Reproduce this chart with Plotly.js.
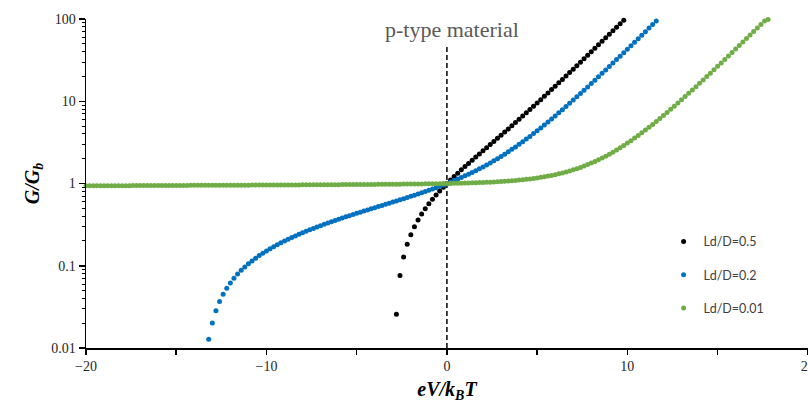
<!DOCTYPE html>
<html>
<head>
<meta charset="utf-8">
<script src="https://cdn.plot.ly/plotly-3.0.1.min.js"></script>
<style>html,body{margin:0;padding:0;background:#fff;}#chart{width:808px;height:406px;}</style>
</head>
<body>
<div id="chart"></div>
<script>
// eV/kBT values and G/Gb values for each Ld/D ratio
const seriesNames = ['Ld/D=0.5', 'Ld/D=0.2', 'Ld/D=0.01'];

const blackX = [-2.8,-2.6,-2.4,-2.2,-2,-1.8,-1.6,-1.4,-1.2,-1,-0.8,-0.6,-0.4,-0.2,0,
  0.2,0.4,0.6,0.8,1,1.2,1.4,1.6,1.8,2,
  2.2,2.4,2.6,2.8,3,3.2,3.4,3.6,3.8,4,
  4.2,4.4,4.6,4.8,5,5.2,5.4,5.6,5.8,6,
  6.2,6.4,6.6,6.8,7,7.2,7.4,7.6,7.8,8,
  8.2,8.4,8.6,8.8,9,9.2,9.4,9.6,9.8];
const blackY = [0.0258,0.0759,0.1280,0.1823,0.2390,0.2983,0.3605,0.4257,0.4944,0.5668,0.6434,0.7245,0.8106,0.9023,1.0,
  1.104,1.216,1.337,1.466,1.605,1.756,1.919,2.096,2.287,2.496,
  2.724,2.972,3.243,3.540,3.864,4.220,4.611,5.040,5.511,6.030,
  6.600,7.228,7.920,8.682,9.523,10.45,11.47,12.60,13.85,15.22,
  16.74,18.41,20.26,22.31,24.56,27.06,29.81,32.86,36.22,39.93,
  44.04,48.58,53.59,59.13,65.25,72.01,79.49,87.75,96.88];

const blueX = [-13.2,-13,-12.8,-12.6,-12.4,-12.2,-12,-11.8,-11.6,-11.4,
  -11.2,-11,-10.8,-10.6,-10.4,-10.2,-10,-9.8,-9.6,-9.4,
  -9.2,-9,-8.8,-8.6,-8.4,-8.2,-8,-7.8,-7.6,-7.4,
  -7.2,-7,-6.8,-6.6,-6.4,-6.2,-6,-5.8,-5.6,-5.4,
  -5.2,-5,-4.8,-4.6,-4.4,-4.2,-4,-3.8,-3.6,-3.4,
  -3.2,-3,-2.8,-2.6,-2.4,-2.2,-2,-1.8,-1.6,-1.4,
  -1.2,-1,-0.8,-0.6,-0.4,-0.2,0,
  0.2,0.4,0.6,0.8,1,1.2,1.4,1.6,1.8,2,
  2.2,2.4,2.6,2.8,3,3.2,3.4,3.6,3.8,4,
  4.2,4.4,4.6,4.8,5,5.2,5.4,5.6,5.8,6,
  6.2,6.4,6.6,6.8,7,7.2,7.4,7.6,7.8,8,
  8.2,8.4,8.6,8.8,9,9.2,9.4,9.6,9.8,10,
  10.2,10.4,10.6,10.8,11,11.2,11.4,11.6];
const blueY = [0.0128,0.0202,0.0284,0.0367,0.0450,0.0534,0.0619,0.0705,0.0791,0.0879,
  0.0967,0.1056,0.1146,0.1236,0.1328,0.1421,0.1515,0.1610,0.1705,0.1802,
  0.1901,0.2000,0.2101,0.2202,0.2306,0.2410,0.2517,0.2624,0.2733,0.2844,
  0.2957,0.3071,0.3188,0.3306,0.3426,0.3549,0.3674,0.3801,0.3931,0.4064,
  0.4200,0.4338,0.4480,0.4626,0.4775,0.4929,0.5086,0.5248,0.5415,0.5588,
  0.5766,0.5951,0.6142,0.6340,0.6547,0.6762,0.6986,0.7221,0.7467,0.7726,
  0.7998,0.8284,0.8588,0.8909,0.9250,0.9613,1.0,
  1.0414,1.0857,1.1333,1.1845,1.2397,1.2993,1.3639,1.4339,1.5099,1.5926,
  1.6826,1.7809,1.8883,2.0058,2.1344,2.2754,2.4301,2.6000,2.7866,2.9919,
  3.2179,3.4666,3.7406,4.0425,4.3754,4.7424,5.1474,5.5941,6.0872,6.6315,
  7.2325,7.8961,8.6289,9.4382,10.332,11.320,12.411,13.616,14.948,16.419,
  18.045,19.842,21.827,24.021,26.445,29.124,32.084,35.356,38.972,42.967,
  47.392,52.271,57.664,63.623,70.209,77.488,85.532,94.423];

const greenX = [-20,-19.8,-19.6,-19.4,-19.2,-19,-18.8,-18.6,-18.4,-18.2,
  -18,-17.8,-17.6,-17.4,-17.2,-17,-16.8,-16.6,-16.4,-16.2,
  -16,-15.8,-15.6,-15.4,-15.2,-15,-14.8,-14.6,-14.4,-14.2,
  -14,-13.8,-13.6,-13.4,-13.2,-13,-12.8,-12.6,-12.4,-12.2,
  -12,-11.8,-11.6,-11.4,-11.2,-11,-10.8,-10.6,-10.4,-10.2,
  -10,-9.8,-9.6,-9.4,-9.2,-9,-8.8,-8.6,-8.4,-8.2,
  -8,-7.8,-7.6,-7.4,-7.2,-7,-6.8,-6.6,-6.4,-6.2,
  -6,-5.8,-5.6,-5.4,-5.2,-5,-4.8,-4.6,-4.4,-4.2,
  -4,-3.8,-3.6,-3.4,-3.2,-3,-2.8,-2.6,-2.4,-2.2,
  -2,-1.8,-1.6,-1.4,-1.2,-1,-0.8,-0.6,-0.4,-0.2,
  0,
  0.2,0.4,0.6,0.8,1,1.2,1.4,1.6,1.8,2,
  2.2,2.4,2.6,2.8,3,3.2,3.4,3.6,3.8,4,
  4.2,4.4,4.6,4.8,5,5.2,5.4,5.6,5.8,6,
  6.2,6.4,6.6,6.8,7,7.2,7.4,7.6,7.8,8,
  8.2,8.4,8.6,8.8,9,9.2,9.4,9.6,9.8,10,
  10.2,10.4,10.6,10.8,11,11.2,11.4,11.6,11.8,12,
  12.2,12.4,12.6,12.8,13,13.2,13.4,13.6,13.8,14,
  14.2,14.4,14.6,14.8,15,15.2,15.4,15.6,15.8,16,
  16.2,16.4,16.6,16.8,17,17.2,17.4,17.6,17.8];
const greenY = [0.938,0.939,0.939,0.939,0.940,0.940,0.940,0.941,0.941,0.941,
  0.942,0.942,0.942,0.943,0.943,0.943,0.944,0.944,0.945,0.945,
  0.945,0.946,0.946,0.946,0.947,0.947,0.947,0.948,0.948,0.949,
  0.949,0.949,0.950,0.950,0.951,0.951,0.951,0.952,0.952,0.953,
  0.953,0.954,0.954,0.954,0.955,0.955,0.956,0.956,0.957,0.957,
  0.958,0.958,0.959,0.959,0.960,0.960,0.961,0.961,0.962,0.962,
  0.963,0.963,0.964,0.964,0.965,0.965,0.966,0.967,0.967,0.968,
  0.968,0.969,0.970,0.970,0.971,0.972,0.972,0.973,0.974,0.975,
  0.975,0.976,0.977,0.978,0.979,0.980,0.981,0.982,0.983,0.984,
  0.985,0.986,0.987,0.989,0.990,0.991,0.993,0.995,0.996,0.998,
  1.000,
  1.0021,1.0043,1.0067,1.0092,1.0120,1.0150,1.0182,1.0217,1.0255,1.0296,
  1.0341,1.0390,1.0444,1.0503,1.0567,1.0638,1.0715,1.0800,1.0893,1.0996,
  1.1109,1.1233,1.1370,1.1521,1.1688,1.1871,1.2074,1.2297,1.2544,1.2816,
  1.3116,1.3448,1.3814,1.4219,1.4666,1.5160,1.5705,1.6308,1.6974,1.7710,
  1.8523,1.9421,2.0414,2.1510,2.2722,2.4062,2.5542,2.7178,2.8986,3.0984,
  3.3196,3.5636,3.8332,4.1312,4.4605,4.8244,5.2266,5.6711,6.1624,6.7053,
  7.3054,7.9685,8.7014,9.5114,10.407,11.396,12.489,13.697,15.033,16.509,
  18.140,19.942,21.935,24.136,26.570,29.259,32.231,35.515,39.145,43.157,
  47.591,52.491,57.906,63.891,70.505,77.816,85.894,94.823,98.9];

const xTickVals = [-20, -10, 0, 10, 20];
const yTickVals = [0.01, 0.1, 1, 10, 100];
const yTickText = ['0.01', '0.1', '1', '10', '100'];
const dividerX = [0, 0];
const dividerY = [0.01, 48];

const colors = ['#000000', '#0070C0', '#70AD47'];
const serif = 'Liberation Serif, DejaVu Serif, serif';

function seriesTrace(x, y, i) {
  return {
    type: 'scatter', mode: 'markers', x: x, y: y, name: seriesNames[i],
    legendgroup: 'g' + i,
    marker: {color: colors[i], size: 5, line: {width: 0}},
    cliponaxis: false, hoverinfo: 'x+y+name'
  };
}

const traces = [
  {type: 'scatter', mode: 'lines', x: dividerX, y: dividerY, showlegend: false,
   hoverinfo: 'skip', line: {color: '#000', width: 1.5, dash: '5px,3px'}},
  seriesTrace(blackX, blackY, 0),
  seriesTrace(blueX, blueY, 1),
  seriesTrace(greenX, greenY, 2)
];

const layout = {
  width: 808, height: 406,
  margin: {l: 86, r: 0, t: 19, b: 58, pad: 0},
  paper_bgcolor: '#fff', plot_bgcolor: '#fff',
  showlegend: true,
  legend: {
    x: 0.8, y: 0.368, xanchor: 'left', yanchor: 'top',
    font: {family: 'Lato, Open Sans, sans-serif', size: 12.5, color: '#404040'},
    bgcolor: 'rgba(0,0,0,0)', tracegroupgap: 14, itemsizing: 'trace'
  },
  xaxis: {
    range: [-20, 20.01], tickmode: 'array', tickvals: xTickVals,
    ticks: 'outside', ticklen: 5, tickwidth: 1.5, tickcolor: '#000',
    ticklabeloverflow: 'allow',
    minor: {dtick: 5, tick0: 0, ticks: 'outside', ticklen: 5, tickwidth: 1.5, tickcolor: '#000'},
    showline: true, linecolor: '#000', linewidth: 1.5,
    showgrid: false, zeroline: false, automargin: false,
    tickfont: {family: serif, size: 14, color: '#262626'},
    title: {text: '<b><i>eV/k<sub>B</sub>T</i></b>', font: {family: serif, size: 20, color: '#000'}, standoff: 8}
  },
  yaxis: {
    type: 'log', range: [-2, 2], tickmode: 'array', tickvals: yTickVals, ticktext: yTickText,
    ticks: 'outside', ticklen: 6, tickwidth: 1.5, tickcolor: '#000',
    minor: {dtick: 'D1', ticks: 'outside', ticklen: 3, tickwidth: 1, tickcolor: '#000'},
    showline: true, linecolor: '#000', linewidth: 1.5,
    showgrid: false, zeroline: false, automargin: false,
    tickfont: {family: serif, size: 14, color: '#262626'},
    title: {text: '<b><i>G/G<sub>b</sub></i></b>', font: {family: serif, size: 20, color: '#000'}, standoff: 6}
  },
  annotations: [{
    xref: 'paper', yref: 'paper', x: 0.507, y: 0.968, xanchor: 'center', yanchor: 'middle',
    text: 'p-type material', showarrow: false,
    font: {family: serif, size: 22, color: '#595959'}
  }]
};

Plotly.newPlot('chart', traces, layout, {displayModeBar: false, staticPlot: true});
</script>
</body>
</html>
